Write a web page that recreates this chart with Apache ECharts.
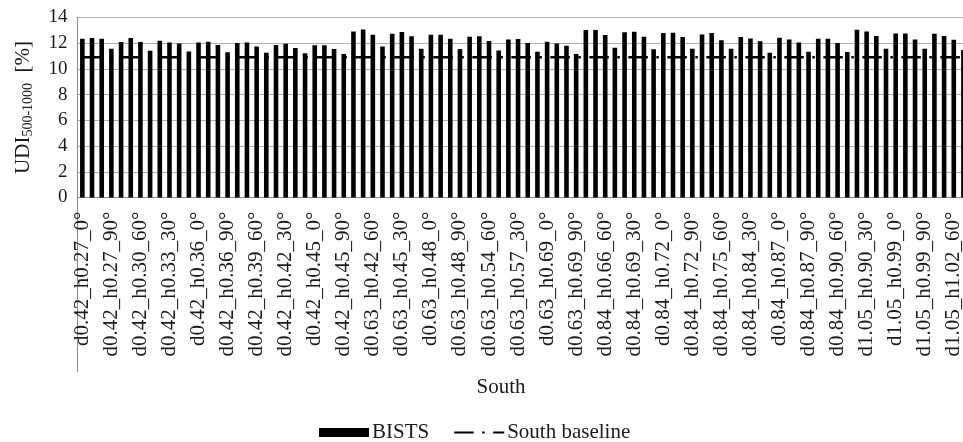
<!DOCTYPE html>
<html>
<head>
<meta charset="utf-8">
<script src="https://cdn.jsdelivr.net/npm/echarts@6/dist/echarts.min.js"></script>
<style>
html,body{margin:0;padding:0;background:#fff;}
#chart{width:963px;height:442px;}
</style>
</head>
<body>
<div id="chart"></div>
<script>
var categories = [
 'd0.42_h0.27_0°','d0.42_h0.27_30°','d0.42_h0.27_60°','d0.42_h0.27_90°',
 'd0.42_h0.30_0°','d0.42_h0.30_30°','d0.42_h0.30_60°','d0.42_h0.30_90°',
 'd0.42_h0.33_0°','d0.42_h0.33_30°','d0.42_h0.33_60°','d0.42_h0.33_90°',
 'd0.42_h0.36_0°','d0.42_h0.36_30°','d0.42_h0.36_60°','d0.42_h0.36_90°',
 'd0.42_h0.39_0°','d0.42_h0.39_30°','d0.42_h0.39_60°','d0.42_h0.39_90°',
 'd0.42_h0.42_0°','d0.42_h0.42_30°','d0.42_h0.42_60°','d0.42_h0.42_90°',
 'd0.42_h0.45_0°','d0.42_h0.45_30°','d0.42_h0.45_60°','d0.42_h0.45_90°',
 'd0.63_h0.42_0°','d0.63_h0.42_30°','d0.63_h0.42_60°','d0.63_h0.42_90°',
 'd0.63_h0.45_0°','d0.63_h0.45_30°','d0.63_h0.45_60°','d0.63_h0.45_90°',
 'd0.63_h0.48_0°','d0.63_h0.48_30°','d0.63_h0.48_60°','d0.63_h0.48_90°',
 'd0.63_h0.54_0°','d0.63_h0.54_30°','d0.63_h0.54_60°','d0.63_h0.54_90°',
 'd0.63_h0.57_0°','d0.63_h0.57_30°','d0.63_h0.57_60°','d0.63_h0.57_90°',
 'd0.63_h0.69_0°','d0.63_h0.69_30°','d0.63_h0.69_60°','d0.63_h0.69_90°',
 'd0.84_h0.66_0°','d0.84_h0.66_30°','d0.84_h0.66_60°','d0.84_h0.66_90°',
 'd0.84_h0.69_0°','d0.84_h0.69_30°','d0.84_h0.69_60°','d0.84_h0.69_90°',
 'd0.84_h0.72_0°','d0.84_h0.72_30°','d0.84_h0.72_60°','d0.84_h0.72_90°',
 'd0.84_h0.75_0°','d0.84_h0.75_30°','d0.84_h0.75_60°','d0.84_h0.75_90°',
 'd0.84_h0.84_0°','d0.84_h0.84_30°','d0.84_h0.84_60°','d0.84_h0.84_90°',
 'd0.84_h0.87_0°','d0.84_h0.87_30°','d0.84_h0.87_60°','d0.84_h0.87_90°',
 'd0.84_h0.90_0°','d0.84_h0.90_30°','d0.84_h0.90_60°','d0.84_h0.90_90°',
 'd1.05_h0.90_0°','d1.05_h0.90_30°','d1.05_h0.90_60°','d1.05_h0.90_90°',
 'd1.05_h0.99_0°','d1.05_h0.99_30°','d1.05_h0.99_60°','d1.05_h0.99_90°',
 'd1.05_h1.02_0°','d1.05_h1.02_30°','d1.05_h1.02_60°','d1.05_h1.02_90°'
];
var bistsValues = [
 12.34,12.39,12.34,11.56, 12.08,12.39,12.08,11.41, 12.18,12.05,11.97,11.35,
 12.05,12.10,11.84,11.28, 12.00,12.05,11.74,11.25, 11.84,11.95,11.61,11.20,
 11.82,11.82,11.53,11.15,
 12.90,13.06,12.65,11.74, 12.72,12.85,12.52,11.56, 12.65,12.65,12.34,11.53,
 12.49,12.52,12.16,11.43, 12.28,12.31,12.00,11.33, 12.10,11.97,11.79,11.15,
 13.01,13.01,12.62,11.64, 12.83,12.88,12.49,11.51, 12.78,12.80,12.47,11.56,
 12.67,12.78,12.21,11.56, 12.47,12.36,12.13,11.25, 12.41,12.28,12.05,11.33,
 12.34,12.34,12.00,11.30,
 13.03,12.90,12.54,11.56, 12.75,12.75,12.28,11.56, 12.72,12.54,12.26,11.46
];
var baselineValues = [
 10.9,10.9,10.9,10.9,10.9,10.9,10.9,10.9,10.9,10.9,10.9,10.9,10.9,10.9,10.9,10.9,
 10.9,10.9,10.9,10.9,10.9,10.9,10.9,10.9,10.9,10.9,10.9,10.9,10.9,10.9,10.9,10.9,
 10.9,10.9,10.9,10.9,10.9,10.9,10.9,10.9,10.9,10.9,10.9,10.9,10.9,10.9,10.9,10.9,
 10.9,10.9,10.9,10.9,10.9,10.9,10.9,10.9,10.9,10.9,10.9,10.9,10.9,10.9,10.9,10.9,
 10.9,10.9,10.9,10.9,10.9,10.9,10.9,10.9,10.9,10.9,10.9,10.9,10.9,10.9,10.9,10.9,
 10.9,10.9,10.9,10.9,10.9,10.9,10.9,10.9,10.9,10.9,10.9,10.9
];
var yTicks = [0, 2, 4, 6, 8, 10, 12, 14];
var groupLabel = 'South';
var seriesNames = ['BISTS', 'South baseline'];

var FONT = "'Liberation Serif','Times New Roman',serif";
var TXT = '#1a1a1a';
var chart = echarts.init(document.getElementById('chart'), null, {renderer: 'canvas'});
chart.setOption({
  animation: false,
  backgroundColor: '#fff',
  grid: {left: 77.5, right: -5.3, top: 17.3, bottom: 244.5, containLabel: false, outerBoundsMode: 'none'},
  legend: {
    left: 314, top: 417,
    itemWidth: 50, itemHeight: 9, itemGap: 24,
    textStyle: {fontFamily: FONT, fontSize: 21, color: TXT, padding: [0,0,0,-2]},
    data: [
      {name: seriesNames[0], icon: 'rect'},
      {name: seriesNames[1], itemStyle: {opacity: 0}}
    ]
  },
  xAxis: {
    type: 'category',
    data: categories,
    boundaryGap: true,
    axisTick: {show: false},
    axisLine: {lineStyle: {color: '#8c8c8c', width: 1}},
    axisLabel: {interval: 2, rotate: 90, margin: 14, fontFamily: FONT, fontSize: 21, color: TXT}
  },
  yAxis: {
    type: 'value',
    min: yTicks[0], max: yTicks[yTicks.length - 1], interval: 2,
    axisLine: {show: true, lineStyle: {color: '#8c8c8c', width: 1}},
    axisTick: {show: false},
    splitLine: {lineStyle: {color: '#b0b0b0', width: 1}},
    axisLabel: {margin: 10, fontFamily: FONT, fontSize: 19, color: TXT},
    name: '{m|UDI}{s|500-1000}{m|  [%]}',
    nameLocation: 'middle',
    nameRotate: 90,
    nameGap: 42,
    nameTextStyle: {
      fontFamily: FONT, color: TXT,
      rich: {
        m: {fontFamily: FONT, fontSize: 21, color: TXT, verticalAlign: 'top', height: 24},
        s: {fontFamily: FONT, fontSize: 14, color: TXT, verticalAlign: 'top', padding: [10,0,0,0]}
      }
    }
  },
  series: [
    {
      name: seriesNames[0], type: 'bar', data: bistsValues,
      barWidth: 4.6,
      itemStyle: {color: '#000'}
    },
    {
      name: seriesNames[1], type: 'line', data: baselineValues,
      symbol: 'none',
      lineStyle: {color: '#000', width: 2.5, type: [19.5, 8.5, 2.5, 8.5], cap: 'butt'},
      itemStyle: {color: '#000'}
    }
  ],
  graphic: [
    {type: 'line', shape: {x1: 77.5, y1: 197, x2: 77.5, y2: 372}, style: {stroke: '#8c8c8c', lineWidth: 1}, silent: true},
    {type: 'text', x: 501, y: 387, style: {text: groupLabel, fontFamily: FONT, fontSize: 21, fill: TXT, textAlign: 'center', textVerticalAlign: 'middle'}, silent: true}
  ]
});
</script>
</body>
</html>
